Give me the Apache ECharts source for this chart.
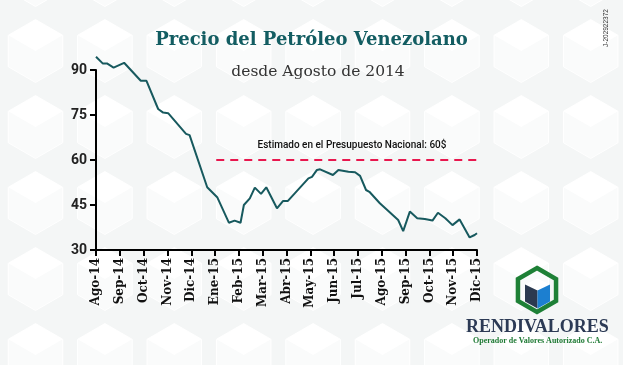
<!DOCTYPE html>
<html>
<head>
<meta charset="utf-8">
<script src="https://cdn.jsdelivr.net/npm/echarts@6/dist/echarts.min.js"></script>
<style>
html,body{margin:0;padding:0;background:#fff;}
#c{width:623px;height:365px;}
</style>
</head>
<body>
<div id="c"></div>
<script>
// Month tick labels (index 0..16)
var monthLabels = ['Ago-14','Sep-14','Oct-14','Nov-14','Dic-14','Ene-15','Feb-15','Mar-15','Abr-15','May-15','Jun-15','Jul-15','Ago-15','Sep-15','Oct-15','Nov-15','Dic-15'];
// Position of each observation, in months since Aug 2014
var obsMonth = [0.00,0.28,0.46,0.74,1.18,1.88,2.12,2.61,2.82,3.03,3.78,3.93,4.67,5.09,5.58,5.82,6.07,6.21,6.46,6.67,6.93,7.15,7.60,7.85,8.05,8.92,9.07,9.28,9.41,9.95,10.18,10.60,10.88,11.09,11.34,11.48,11.92,12.69,12.90,13.18,13.49,13.81,14.13,14.36,14.67,14.97,15.27,15.69,15.90,16.00];
// Oil price (US$ per barrel)
var price = [94.4,92.2,92.2,90.8,92.4,86.4,86.4,77.0,75.8,75.6,68.7,68.3,50.9,47.6,39.1,39.8,39.1,45.0,47.2,50.8,48.7,50.9,43.9,46.3,46.3,53.9,54.4,56.7,56.9,55.0,56.7,56.1,55.9,54.7,50.0,49.4,45.6,40.0,36.3,42.8,40.6,40.3,39.8,42.4,40.6,38.3,40.2,34.2,35.0,35.6];
var yTicks = [30,45,60,75,90];
// Budget estimate line (start / end month, value)
var budgetValue = 60;
var budgetMonths = [5.05, 16.25];
var budgetLabelMonth = 10.75;
var budgetLabel = 'Estimado en el Presupuesto Nacional: 60$';

var seriesData = obsMonth.map(function(m,i){return [m, price[i]];});
var budgetData = budgetMonths.map(function(m){return [m, budgetValue];});

var chart = echarts.init(document.getElementById('c'), null, {renderer:'canvas'});

function hexPoints(cx, cy, r){
  var pts=[];
  for(var k=0;k<6;k++){
    var a = Math.PI/180*(60*k-90);
    pts.push([cx + r*Math.cos(a), cy + r*Math.sin(a)]);
  }
  return pts;
}

// faint background cube pattern (decoration)
var bg = [];
var R = 31.5, hw = R*Math.sqrt(3)/2;
for (var row=-1; row<6; row++){
  for (var col=-1; col<10; col++){
    var cx = 35.5 + col*69.4, cy = 51 + row*76;
    bg.push({type:'polygon', z:-20, silent:true, shape:{points:hexPoints(cx,cy,R)}, style:{fill:'#fafbfb', stroke:'#ffffff', lineWidth:1}});
    bg.push({type:'polygon', z:-19, silent:true, shape:{points:[[cx,cy-R],[cx-hw,cy-R/2],[cx,cy],[cx+hw,cy-R/2]]}, style:{fill:'#ffffff'}});
  }
}

var hc = [537, 290];
var cc = [537.5, 290.5];
function cub(pts){return pts.map(function(p){return [cc[0]+p[0], cc[1]+p[1]];});}

var logo = [
  {type:'polygon', shape:{points:hexPoints(hc[0], hc[1], 22)}, style:{fill:'none', stroke:'#1e8036', lineWidth:4.5}},
  {type:'polygon', shape:{points:cub([[0,-12],[-12.5,-6],[0,0],[12.5,-6]])}, style:{fill:'#ffffff'}},
  {type:'polygon', shape:{points:cub([[-12.5,-6],[0,0],[0,18],[-12.5,11]])}, style:{fill:'#2c3a50'}},
  {type:'polygon', shape:{points:cub([[12.5,-6],[0,0],[0,18],[12.5,11]])}, style:{fill:'#1c7fd0'}},
  {type:'text', left:466, top:318, style:{text:'RENDIVALORES', fontFamily:'Liberation Serif', fontWeight:'bold', fontSize:18, fill:'#2c3a55'}},
  {type:'text', left:473, top:337, style:{text:'Operador de Valores Autorizado C.A.', fontFamily:'Liberation Serif', fontWeight:'bold', fontSize:8, fill:'#1f7a35'}},
  {type:'text', x:606, y:47, rotation:Math.PI/2, style:{text:'J-202922372', fontFamily:'Liberation Sans', fontSize:6.5, fill:'#333', textAlign:'left', textVerticalAlign:'middle'}}
];

chart.setOption({
  backgroundColor:'#f4f6f6',
  animation:false,
  title:[{
    text:'Precio del Petróleo Venezolano',
    left:'center', top:26,
    textStyle:{fontFamily:'DejaVu Serif', fontWeight:'bold', fontSize:18, color:'#135d62'}
  },{
    text:'desde Agosto de 2014',
    left:313, top:59, textAlign:'center',
    textStyle:{fontFamily:'DejaVu Serif', fontWeight:'normal', fontSize:15.5, color:'#333'}
  }],
  grid:{left:96, right:146, top:70, bottom:115},
  xAxis:{
    type:'value', min:0, max:16, interval:1,
    axisLine:{show:true, lineStyle:{color:'#000', width:2}},
    axisTick:{show:true, length:6, lineStyle:{color:'#000', width:2}},
    splitLine:{show:false},
    axisLabel:{
      rotate:90, margin:8,
      fontFamily:'DejaVu Serif', fontWeight:'bold', fontSize:12, color:'#111',
      formatter:function(v){return monthLabels[Math.round(v)] || '';}
    }
  },
  yAxis:{
    type:'value', min:30, max:90, interval:15,
    axisLine:{show:true, lineStyle:{color:'#000', width:2}},
    axisTick:{show:true, length:6, lineStyle:{color:'#000', width:2}},
    splitLine:{show:false},
    axisLabel:{
      margin:9, fontFamily:'Roboto', fontWeight:'bold', fontSize:14, color:'#222',
      formatter:function(v){return yTicks.indexOf(v)>=0 ? String(v) : '';}
    }
  },
  series:[{
    type:'line',
    data:budgetData,
    clip:false,
    symbol:'none',
    lineStyle:{color:'#e8174e', type:[8,6], width:2},
    markPoint:{
      silent:true, symbol:'circle', symbolSize:1,
      itemStyle:{color:'rgba(0,0,0,0)'},
      label:{show:true, position:'inside', offset:[0,-15], formatter:budgetLabel,
        fontFamily:'Roboto', fontWeight:500, fontSize:10, color:'#111'},
      data:[{coord:[budgetLabelMonth, budgetValue]}]
    }
  },{
    type:'line',
    data:seriesData,
    clip:false,
    symbol:'none',
    lineStyle:{color:'#17595e', width:2}
  }],
  graphic:bg.concat(logo)
});
</script>
</body>
</html>
